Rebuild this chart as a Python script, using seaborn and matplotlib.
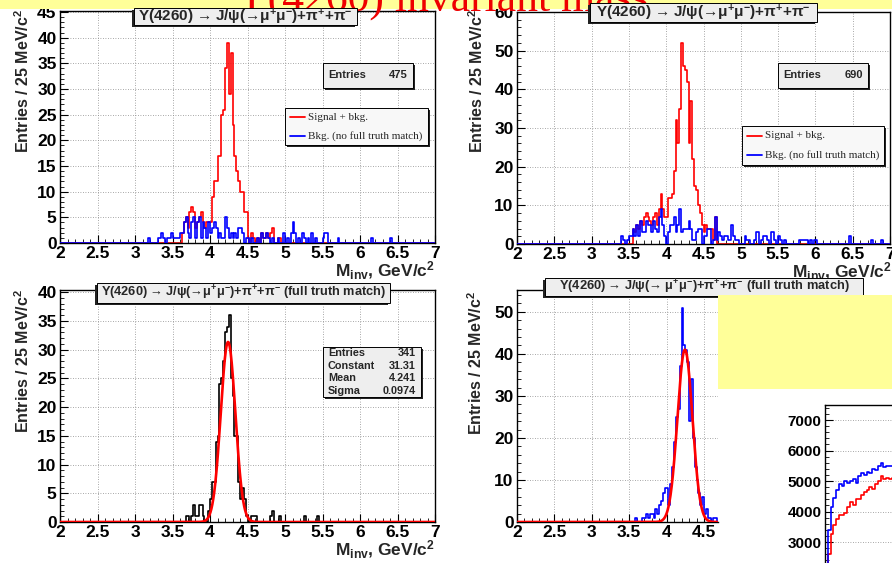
import numpy as np
import matplotlib
matplotlib.use("Agg")
import matplotlib.pyplot as plt
import seaborn as sns
from matplotlib.patches import Rectangle
from matplotlib.lines import Line2D
from matplotlib.ticker import MultipleLocator, FuncFormatter, NullLocator

# ---------------------------------------------------------------- data
BIN_WIDTH = 0.025            # 25 MeV/c^2 bins
MASS_MIN, MASS_MAX = 2.0, 7.0

# top-left: all candidates (signal + bkg.) and candidates without full truth match
sig_bkg_a_start = 3.625
sig_bkg_a = [2, 4, 5, 3, 6, 7, 6, 3, 4, 5, 6, 4, 3, 4, 4,
             4, 9, 12, 12, 17, 17, 25, 26, 34, 39, 29, 37, 23, 17, 14, 12, 10, 10, 6, 6,
             1, 0, 2, 1, 0, 1, 0, 2, 1, 1, 2, 1, 2, 3, 0, 0, 1, 1]
bkg_a_start = 3.175
bkg_a = [1, 0, 0, 0, 0, 1, 1, 2, 1, 0,
         1, 1, 2, 1, 1, 1, 1, 2, 2, 4,
         5, 2, 1, 4, 5, 1, 4, 5, 1, 4,
         3, 1, 4, 2, 3, 4, 3, 1, 2, 1,
         1, 5, 3, 1, 2, 1, 2, 1, 3, 3,
         2, 0, 1, 1, 0, 1, 0, 0, 1, 0,
         2, 1, 1, 2, 1, 0, 1, 0, 0, 1,
         0, 0, 2, 0, 1, 0, 2, 4, 2, 0,
         1, 0, 2, 1, 0, 1, 0, 2, 0, 1,
         0, 0, 0, 1, 2, 2, 0, 0, 0, 0,
         0, 1, 0, 0, 0, 0, 0, 0, 0, 0,
         0, 0, 0, 0, 0, 0, 0, 0, 0, 1,
         0, 0, 0, 0, 0, 0, 0, 0, 0, 1]
entries_a = 475

# top-right
sig_bkg_b_start = 3.55
sig_bkg_b = [4, 3, 5, 4, 6, 5, 7, 8, 7, 6,
             5, 7, 8, 5, 9, 13, 9, 7, 7, 12,
             12, 13, 19, 32, 26, 35, 52, 46, 45, 42,
             26, 37, 22, 15, 14, 10, 8, 5, 3, 5,
             4, 4, 4, 1, 7]
bkg_b_start = 3.40
bkg_b = [2, 1, 0, 1, 2, 2, 4, 2, 5, 2,
         6, 3, 3, 6, 5, 5, 3, 6, 4, 3,
         7, 9, 5, 2, 0, 3, 5, 5, 7, 3,
         5, 9, 3, 4, 4, 4, 6, 4, 1, 1,
         3, 4, 4, 0, 2, 2, 4, 4, 0, 1,
         7, 1, 3, 2, 1, 2, 2, 1, 1, 5,
         2, 1, 1, 0, 0, 0, 2, 1, 1, 0,
         0, 1, 3, 3, 0, 1, 2, 2, 1, 0,
         3, 3, 1, 0, 2, 1, 0, 1, 0, 0,
         0, 0, 0, 0, 0, 1, 1, 1, 1, 1,
         0, 1, 0, 1, 1, 0, 0, 0, 0, 0,
         0, 0, 0, 0, 0, 0, 0, 0, 0, 0,
         0, 0, 2, 0, 0, 0, 0, 0, 0, 0,
         0, 0, 0, 0, 1, 0, 0, 0, 0, 1]
entries_b = 690

# bottom-left: full truth match, Gaussian fit
truth_c_start = 3.675
truth_c = [1, 1, 0, 1, 3, 1, 1, 3, 3, 1,
           0, 0, 2, 4, 7, 7, 14, 15, 24, 25,
           28, 33, 34, 36, 25, 22, 15, 15, 7, 4,
           6, 4, 1, 0, 0, 1, 1, 1, 0, 0,
           0, 0, 0, 0, 0, 1, 2, 0, 0, 0,
           1, 0, 0, 0, 0, 0, 0, 0, 0, 0,
           0, 0, 0, 1, 0, 0, 0, 0, 0, 0,
           1]
entries_c = 341
fit_c_constant, fit_c_mean, fit_c_sigma = 31.31, 4.241, 0.0974

# bottom-right: full truth match, Gaussian fit
truth_d_start = 3.575
truth_d = [1, 0, 0, 0, 1, 1, 2, 1, 2, 2,
           1, 3, 2, 4, 5, 7, 8, 8, 4, 9,
           13, 19, 25, 27, 37, 51, 42, 41, 38, 24,
           34, 20, 13, 10, 7, 4, 6, 2, 3, 1,
           1, 0, 1, 1]
fit_d_constant, fit_d_mean, fit_d_sigma = 41.0, 4.245, 0.100

# corner panel (only its left edge is on the page)
corner_blue = [1500, 3400, 4150, 4450, 4700, 4900, 4850, 5000, 4950, 5000, 5050, 4950,
               5150, 5250, 5200, 5300, 5250, 5400, 5350, 5500, 5600, 5450, 5500, 5500, 5500]
corner_red = [1500, 2600, 3250, 3550, 3750, 3900, 3900, 3950, 4150, 4300, 4200, 4400,
              4400, 4550, 4650, 4700, 4800, 4750, 4900, 5000, 5150, 5050, 5100, 5050, 5100]

# ---------------------------------------------------------------- style
sns.set_style("ticks")
plt.rcParams["font.family"] = ["Liberation Sans", "DejaVu Sans"]
plt.rcParams["font.weight"] = "bold"
plt.rcParams["mathtext.fontset"] = "custom"
plt.rcParams["mathtext.rm"] = "Liberation Sans:bold"
plt.rcParams["mathtext.it"] = "Liberation Sans:bold"
plt.rcParams["mathtext.bf"] = "Liberation Sans:bold"
plt.rcParams["mathtext.default"] = "rm"

RED, BLUE, BLACK = "#FF0000", "#0000FF", "#000000"
YELLOW = "#FFFF99"
PAVE = "#EEEEEE"

W, H, DPI = 892, 563, 100
fig = plt.figure(figsize=(W / DPI, H / DPI), dpi=DPI)
fig.patch.set_facecolor("white")


def fx(x):
    return x / W


def fy(y):
    return 1 - y / H


def px_rect(x0, y0, x1, y1):
    return [x0 / W, 1 - y1 / H, (x1 - x0) / W, (y1 - y0) / H]


n_bins = int(round((MASS_MAX - MASS_MIN) / BIN_WIDTH))
edges = MASS_MIN + BIN_WIDTH * np.arange(n_bins + 1)
centers = 0.5 * (edges[:-1] + edges[1:])


def place(start, counts):
    h = np.zeros(n_bins)
    i0 = int(round((start - MASS_MIN) / BIN_WIDTH))
    h[i0:i0 + len(counts)] = counts
    return h


def step_hist(ax, x, w, bins, color, lw=1.2, z=2):
    sns.histplot(x=np.asarray(x, float), weights=np.asarray(w, float), bins=list(bins),
                 element="step", fill=False, color=color, linewidth=lw, ax=ax, zorder=z)


def gauss_fit(ax, const, mean, sigma, xmax):
    xs = np.linspace(MASS_MIN, xmax, 1200)
    ys = const * np.exp(-0.5 * ((xs - mean) / sigma) ** 2)
    sns.lineplot(x=xs, y=ys, color=RED, linewidth=1.9, ax=ax,
                 estimator=None, errorbar=None, zorder=4)


fmt = FuncFormatter(lambda v, _: f"{v:g}")


def root_axes(ax, xlim, ylim, ymajor, yminor, labelsize=12.5, right=True):
    ax.set_xlim(*xlim)
    ax.set_ylim(*ylim)
    ax.set_xlabel("")
    ax.set_ylabel("")
    ax.xaxis.set_major_locator(MultipleLocator(0.5))
    ax.xaxis.set_minor_locator(MultipleLocator(0.1))
    ax.yaxis.set_major_locator(MultipleLocator(ymajor))
    ax.yaxis.set_minor_locator(MultipleLocator(yminor))
    ax.xaxis.set_major_formatter(fmt)
    ax.yaxis.set_major_formatter(fmt)
    ax.tick_params(which="both", direction="in", top=False, right=False, colors="black")
    ax.tick_params(which="major", length=5.5, width=0.8, labelsize=labelsize, pad=2.5)
    ax.tick_params(which="minor", length=2.8, width=0.6)
    ax.grid(True, which="major", linestyle=(0, (1, 2)), color="#8a8a8a", linewidth=0.6)
    ax.set_axisbelow(True)
    for sp in ax.spines.values():
        sp.set_visible(True)
        sp.set_color("black")
        sp.set_linewidth(1.0)
    if not right:
        ax.spines["right"].set_visible(False)
    ax.set_facecolor("white")


def pave(x0, y0, x1, y1, face, shadow=(2, 2), z=5):
    sx, sy = shadow
    fig.add_artist(Rectangle((fx(x0 + sx), fy(y1 + sy)), (x1 - x0) / W, (y1 - y0) / H,
                             transform=fig.transFigure, facecolor="#222222",
                             edgecolor="none", zorder=z))
    fig.add_artist(Rectangle((fx(x0), fy(y1)), (x1 - x0) / W, (y1 - y0) / H,
                             transform=fig.transFigure, facecolor=face,
                             edgecolor="black", linewidth=0.7, zorder=z + 0.1))


def title_box(x0, y0, x1, y1, text, size):
    pave(x0, y0, x1, y1, PAVE, shadow=(-2, 2))
    fig.text(fx((x0 + x1) / 2), fy((y0 + y1) / 2), text, ha="center", va="center",
             fontsize=size, zorder=6)


def stats_box(x0, y0, x1, y1, rows, size=8):
    pave(x0, y0, x1, y1, PAVE)
    step = (y1 - y0) / len(rows)
    for i, (name, val) in enumerate(rows):
        yc = y0 + step * (i + 0.5)
        fig.text(fx(x0 + 5), fy(yc), name, ha="left", va="center", fontsize=size, zorder=6)
        fig.text(fx(x1 - 5), fy(yc), val, ha="right", va="center", fontsize=size, zorder=6)


def legend_box(x0, y0, x1, y1, entries):
    pave(x0, y0, x1, y1, "#F8F8F8")
    step = (y1 - y0) / len(entries)
    for i, (color, label) in enumerate(entries):
        yc = y0 + step * (i + 0.5)
        fig.add_artist(Line2D([fx(x0 + 5), fx(x0 + 20)], [fy(yc), fy(yc)],
                              transform=fig.transFigure, color=color, lw=1.3, zorder=6))
        fig.text(fx(x0 + 23), fy(yc), label, ha="left", va="center", fontsize=8,
                 family="Liberation Serif", fontweight="normal", zorder=6)


YLABEL = r"Entries / 25 MeV/c$^{2}$"
XLABEL = r"M$_{\rm inv}$, GeV/c$^{2}$"
TITLE = r"$\mathrm{Y(4260)}\;→\;\mathrm{J/}\psi(→\mu^{+}\mu^{-}){+}\pi^{+}{+}\pi^{-}$"
TITLE_C = TITLE + " (full truth match)"
TITLE_D = r"$\mathrm{Y(4260)}\;→\;\mathrm{J/}\psi(→\;\mu^{+}\mu^{-}){+}\pi^{+}{+}\pi^{-}$ (full truth match)"

# ---------------------------------------------------------------- slide header
fig.add_artist(Rectangle((0, fy(9)), 1, 9 / H, transform=fig.transFigure,
                         facecolor=YELLOW, edgecolor="none", zorder=0.5))
fig.text(fx(236), fy(12), "Y(4260) invariant mass", family="Liberation Serif",
         fontweight="normal", fontsize=31.5, color="#EE0000", ha="left",
         va="baseline", zorder=1)

# ---------------------------------------------------------------- top-left
ax_a = fig.add_axes(px_rect(60, 11, 435, 243))
step_hist(ax_a, centers, place(sig_bkg_a_start, sig_bkg_a), edges, RED)
step_hist(ax_a, centers, place(bkg_a_start, bkg_a), edges, BLUE, z=3)
root_axes(ax_a, (MASS_MIN, MASS_MAX), (0, 45.2), 5, 1)
title_box(134, 8, 357, 25, TITLE, 11)
stats_box(323, 63, 413, 88, [("Entries", f"{entries_a}")])
legend_box(285, 108, 428, 145, [(RED, "Signal + bkg."), (BLUE, "Bkg. (no full truth match)")])
fig.text(fx(23), fy(9), YLABEL, rotation=90, ha="center", va="top", fontsize=11.5)
fig.text(fx(435), fy(277), XLABEL, ha="right", va="baseline", fontsize=12.5)

# ---------------------------------------------------------------- top-right
ax_b = fig.add_axes(px_rect(517, 12, 890, 244))
step_hist(ax_b, centers, place(sig_bkg_b_start, sig_bkg_b), edges, RED)
step_hist(ax_b, centers, place(bkg_b_start, bkg_b), edges, BLUE, z=3)
root_axes(ax_b, (MASS_MIN, MASS_MAX), (0, 60), 10, 2)
title_box(590, 3, 817, 22, TITLE, 11)
stats_box(778, 63, 868, 88, [("Entries", f"{entries_b}")])
legend_box(742, 126, 884, 165, [(RED, "Signal + bkg."), (BLUE, "Bkg. (no full truth match)")])
fig.text(fx(477), fy(9), YLABEL, rotation=90, ha="center", va="top", fontsize=11.5)
fig.text(fx(892), fy(278), XLABEL, ha="right", va="baseline", fontsize=12.5)

# ---------------------------------------------------------------- bottom-left
ax_c = fig.add_axes(px_rect(60, 290, 435, 522))
step_hist(ax_c, centers, place(truth_c_start, truth_c), edges, BLACK)
gauss_fit(ax_c, fit_c_constant, fit_c_mean, fit_c_sigma, MASS_MAX)
root_axes(ax_c, (MASS_MIN, MASS_MAX), (0, 40.35), 5, 1)
title_box(97, 283, 390, 303, TITLE_C, 9.2)
stats_box(323, 347, 421, 397, [("Entries", f"{entries_c}"),
                               ("Constant", f"{fit_c_constant:.2f}"),
                               ("Mean", f"{fit_c_mean:.3f}"),
                               ("Sigma", f"{fit_c_sigma:.4f}")], size=7.8)
fig.text(fx(23), fy(289), YLABEL, rotation=90, ha="center", va="top", fontsize=11.5)
fig.text(fx(435), fy(556), XLABEL, ha="right", va="baseline", fontsize=12.5)

# ---------------------------------------------------------------- bottom-right
d_xmax = 4.687
ax_d = fig.add_axes(px_rect(517, 290, 718, 522))
step_hist(ax_d, centers, place(truth_d_start, truth_d), edges, BLUE)
gauss_fit(ax_d, fit_d_constant, fit_d_mean, fit_d_sigma, d_xmax)
root_axes(ax_d, (MASS_MIN, d_xmax), (0, 55.2), 10, 2, right=False)
title_box(545, 278, 863, 296, TITLE_D, 9.3)
fig.text(fx(476), fy(291), YLABEL, rotation=90, ha="center", va="top", fontsize=11.5)

# yellow note block
fig.add_artist(Rectangle((fx(718), fy(389)), (892 - 718) / W, (389 - 295) / H,
                         transform=fig.transFigure, facecolor=YELLOW,
                         edgecolor="none", zorder=8))

# ---------------------------------------------------------------- corner panel
ax_e = fig.add_axes(px_rect(825, 404.75, 1025, 572.5))
n_corner = len(corner_blue)
corner_edges = np.arange(n_corner + 1)
corner_x = corner_edges[:-1] + 0.5
step_hist(ax_e, corner_x, corner_red, corner_edges, RED)
step_hist(ax_e, corner_x, corner_blue, corner_edges, BLUE, z=3)
ax_e.set_xlim(0, 72)
ax_e.set_ylim(2000, 7500)
ax_e.set_xlabel("")
ax_e.set_ylabel("")
ax_e.xaxis.set_major_locator(NullLocator())
ax_e.xaxis.set_minor_locator(NullLocator())
ax_e.yaxis.set_major_locator(MultipleLocator(1000))
ax_e.yaxis.set_minor_locator(MultipleLocator(200))
ax_e.yaxis.set_major_formatter(FuncFormatter(lambda v, _: f"{v:g}" if v >= 2500 else ""))
ax_e.tick_params(which="both", direction="in", right=False, top=False, colors="black")
ax_e.tick_params(which="major", length=5.5, width=0.8, labelsize=11, pad=2.5)
ax_e.tick_params(which="minor", length=2.8, width=0.6)
ax_e.grid(True, axis="y", which="major", linestyle=(0, (1, 2)), color="#8a8a8a", linewidth=0.6)
ax_e.set_axisbelow(True)
for sp in ax_e.spines.values():
    sp.set_visible(True)
    sp.set_color("black")
    sp.set_linewidth(1.0)

fig.savefig("out.png", dpi=DPI)
